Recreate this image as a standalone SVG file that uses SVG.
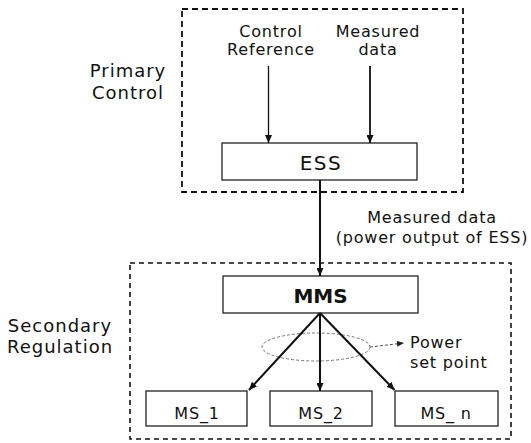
<svg xmlns="http://www.w3.org/2000/svg" width="531" height="443" viewBox="0 0 531 443">
<defs>
<style>
.lbl{font-family:"DejaVu Sans","Liberation Sans",sans-serif;font-size:16px;fill:#111;letter-spacing:0.8px}
.side{font-family:"DejaVu Sans","Liberation Sans",sans-serif;font-size:18px;fill:#111;letter-spacing:1px}
.box{fill:#fff;stroke:#222;stroke-width:1.3}
.grp{fill:none;stroke:#111;stroke-width:1.8;stroke-dasharray:6,4}
.conn{fill:none;stroke:#111;stroke-width:1.8}
</style>
<marker id="ah" markerUnits="userSpaceOnUse" markerWidth="8" markerHeight="7" refX="8" refY="3.5" orient="auto">
<path d="M0,0 L8,3.5 L0,7 z" fill="#111"/>
</marker>
<marker id="ahs" markerUnits="userSpaceOnUse" markerWidth="7" markerHeight="6" refX="7" refY="3" orient="auto">
<path d="M0,0 L7,3 L0,6 z" fill="#222"/>
</marker>
</defs>
<rect width="531" height="443" fill="#fff"/>

<g id="primary-control">
<rect class="grp" x="182" y="9" width="281" height="183"/>
<text class="side" x="128" y="77" text-anchor="middle">Primary</text>
<text class="side" x="128" y="99" text-anchor="middle">Control</text>
</g>

<g id="secondary-regulation">
<rect class="grp" x="130" y="263" width="381" height="176" style="stroke-width:1.6;stroke-dasharray:5,4"/>
<text class="side" x="60" y="332" text-anchor="middle">Secondary</text>
<text class="side" x="60" y="353" text-anchor="middle">Regulation</text>
</g>

<g id="control-reference">
<text class="lbl" x="271" y="37" text-anchor="middle">Control</text>
<text class="lbl" x="271" y="55" text-anchor="middle">Reference</text>
</g>

<g id="measured-data-in">
<text class="lbl" x="378" y="37" text-anchor="middle">Measured</text>
<text class="lbl" x="378" y="55" text-anchor="middle">data</text>
</g>

<g id="ess">
<rect class="box" x="222" y="143" width="195" height="37"/>
<text x="321" y="170" text-anchor="middle" style="font-family:'DejaVu Sans','Liberation Sans',sans-serif;font-size:20px;fill:#111;letter-spacing:1.5px">ESS</text>
</g>

<g id="mms">
<rect class="box" x="223" y="276" width="195" height="37"/>
<text x="320.5" y="303" text-anchor="middle" style="font-family:'DejaVu Sans','Liberation Sans',sans-serif;font-size:20px;font-weight:bold;fill:#111">MMS</text>
</g>

<g id="ms1">
<rect class="box" x="146" y="391" width="101" height="35"/>
<text class="lbl" x="197" y="419" text-anchor="middle">MS_1</text>
</g>

<g id="ms2">
<rect class="box" x="270" y="391" width="102" height="35"/>
<text class="lbl" x="321" y="419" text-anchor="middle">MS_2</text>
</g>

<g id="msn">
<rect class="box" x="395" y="391" width="103" height="35"/>
<text class="lbl" x="446" y="419" text-anchor="middle">MS_ n</text>
</g>

<g id="measured-data-label">
<text class="lbl" x="432" y="223" text-anchor="middle">Measured data</text>
<text class="lbl" x="432" y="243" text-anchor="middle">(power output of ESS)</text>
</g>

<g id="power-set-point">
<ellipse cx="316" cy="347" rx="54" ry="14" fill="none" stroke="#777" stroke-width="1" stroke-dasharray="3,2"/>
<text class="lbl" x="410" y="348">Power</text>
<text class="lbl" x="410" y="368">set point</text>
</g>

<g id="connectors">
<line class="conn" x1="268.5" y1="66" x2="268.5" y2="143" style="stroke-width:1.3" marker-end="url(#ah)"/>
<line class="conn" x1="370" y1="66" x2="370" y2="143" marker-end="url(#ah)"/>
<line class="conn" x1="320" y1="180" x2="320" y2="276" style="stroke-width:2" marker-end="url(#ah)"/>
<line class="conn" x1="320" y1="313" x2="249" y2="390" style="stroke-width:2" marker-end="url(#ah)"/>
<line class="conn" x1="320" y1="313" x2="320" y2="391" style="stroke-width:2" marker-end="url(#ah)"/>
<line class="conn" x1="320" y1="313" x2="394.5" y2="390" style="stroke-width:2" marker-end="url(#ah)"/>
<line x1="370" y1="347" x2="404" y2="343" stroke="#555" stroke-width="1" stroke-dasharray="3,2" marker-end="url(#ahs)"/>
</g>
</svg>
